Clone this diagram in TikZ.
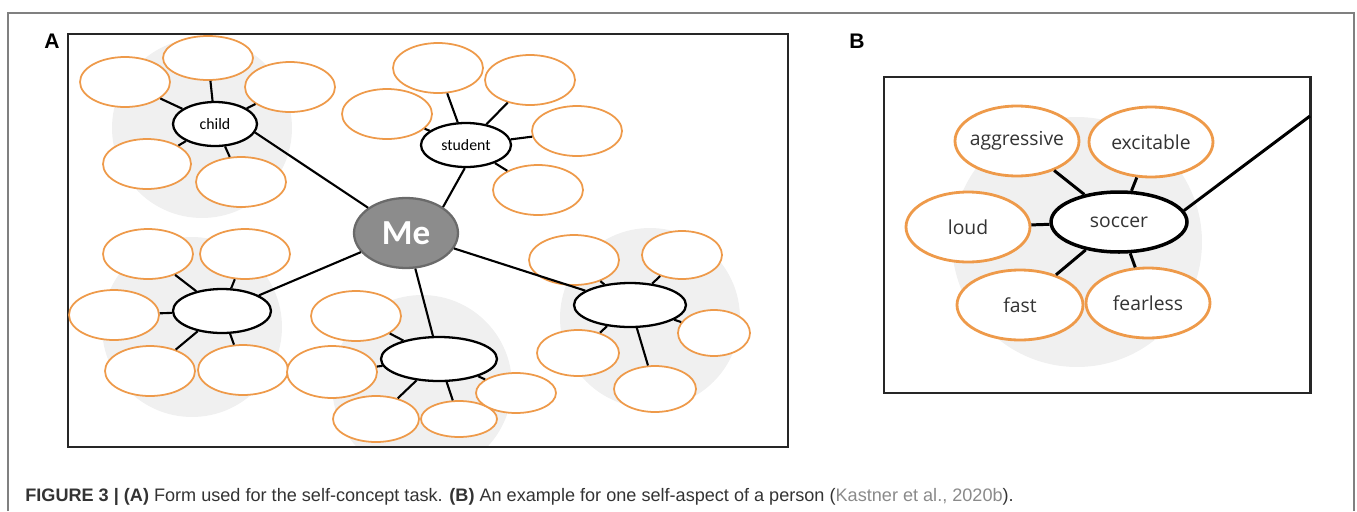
\documentclass[tikz,border=0pt]{standalone}
\usepackage{fontspec}
\setmainfont{Liberation Sans}
\newfontfamily\calib{Carlito}
\newfontfamily\hand{Open Sans}
\usepackage{tikz}
\usetikzlibrary{shapes.geometric,positioning}
\definecolor{bubline}{HTML}{EE9A4A}
\definecolor{discgray}{HTML}{F0F0F0}
\definecolor{mefill}{HTML}{8C8C8C}
\definecolor{meline}{HTML}{6A6A6A}
\definecolor{framegray}{HTML}{808080}
\definecolor{captext}{HTML}{333333}
\definecolor{citegray}{HTML}{8A8A8A}

\begin{document}
\begin{tikzpicture}[
  x=0.02cm, y=-0.02cm,
  bub/.style={ellipse, draw=bubline, line width=1pt, fill=white, inner sep=0pt, minimum width=1.8cm, minimum height=1cm},
  hub/.style={ellipse, draw=black, line width=1.3pt, fill=white, inner sep=0pt, minimum width=1.8cm, minimum height=0.88cm, font=\calib\fontsize{9}{10}\selectfont},
  bubB/.style={bub, line width=1.6pt, minimum width=2.48cm, minimum height=1.4cm},
  hubB/.style={hub, line width=2pt, minimum width=2.72cm, minimum height=1.2cm},
  disc/.style={circle, fill=discgray, inner sep=0pt, minimum size=3.6cm},
  spoke/.style={line width=1.2pt, black},
  spokeB/.style={line width=1.7pt, black},
  panel/.style={draw=black!85, line width=1.4pt},
  word/.style={font=\hand\fontsize{11}{12}\selectfont, text=black!80},
  tag/.style={font=\bfseries\fontsize{12}{12}\selectfont, inner sep=0pt}
]
\useasboundingbox (0,0) rectangle (1357,511);
\draw[framegray, line width=0.9pt] (8,511) -- (8,13) -- (1354,13) -- (1354,511);

% panel A
\node[tag] (labA) at (52,41) {A};
\begin{scope}
  \clip (68,34) rectangle (788,447);
  \node[disc] (dChild) at (202,128) {};
  \node[disc] (dLeft) at (192,327) {};
  \node[disc] (dBot) at (422,385) {};
  \node[disc] (dRight) at (650,318) {};
\end{scope}
\draw[panel] (68,34) rectangle (788,447);

\node[ellipse, draw=meline, line width=1.3pt, fill=mefill, inner sep=0pt, minimum width=2.08cm, minimum height=1.4cm,
      text=white, font=\calib\bfseries\fontsize{20}{20}\selectfont] (me) at (406,233) {Me};

\node[hub, minimum width=1.68cm] (child) at (215,124) {child};
\node[bub] (c1) at (125,82) {};
\node[bub, minimum height=0.88cm] (c2) at (208,58) {};
\node[bub] (c3) at (290,87) {};
\node[bub, minimum width=1.76cm] (c4) at (147,164) {};
\node[bub] (c5) at (241,182) {};

\node[hub] (stud) at (466,145) {student};
\node[bub] (s1) at (438,68) {};
\node[bub] (s2) at (530,80) {};
\node[bub] (s3) at (387,114) {};
\node[bub] (s4) at (577,131) {};
\node[bub] (s5) at (538,190) {};

\node[hub, minimum width=1.96cm] (hL) at (222,311) {};
\node[bub] (l1) at (148,254) {};
\node[bub] (l2) at (245,254) {};
\node[bub] (l3) at (114,315) {};
\node[bub] (l4) at (150,371) {};
\node[bub] (l5) at (243,370) {};

\node[hub, minimum width=2.32cm] (hB) at (439,359) {};
\node[bub] (b1) at (356,316) {};
\node[bub, minimum height=1.04cm] (b2) at (332,372) {};
\node[bub, minimum width=1.72cm, minimum height=0.92cm] (b3) at (376,419) {};
\node[bub, minimum width=1.52cm, minimum height=0.72cm] (b4) at (459,419) {};
\node[bub, minimum width=1.6cm, minimum height=0.8cm] (b5) at (516,393) {};

\node[hub, minimum width=2.24cm] (hR) at (630,305) {};
\node[bub] (r1) at (574,260) {};
\node[bub, minimum width=1.6cm, minimum height=0.96cm] (r2) at (682,255) {};
\node[bub, minimum width=1.44cm, minimum height=0.92cm] (r3) at (714,333) {};
\node[bub, minimum width=1.64cm, minimum height=0.92cm] (r4) at (578,353) {};
\node[bub, minimum width=1.64cm, minimum height=0.92cm] (r5) at (655,389) {};

\draw[spoke] (child.-12) -- (me);
\draw[spoke] (me.35) -- (stud.-93);
\draw[spoke] (me) -- (hL);
\draw[spoke] (me) -- (hB);
\draw[spoke] (me) -- (hR);
\foreach \b in {c1,c2,c3,c4,c5} \draw[spoke] (\b) -- (child);
\foreach \b in {s1,s2,s3,s4,s5} \draw[spoke] (\b) -- (stud);
\foreach \b in {l1,l2,l3,l4,l5} \draw[spoke] (\b) -- (hL);
\foreach \b in {b1,b2,b3,b4,b5} \draw[spoke] (\b) -- (hB);
\foreach \b in {r1,r2,r3,r4,r5} \draw[spoke] (\b) -- (hR);

% panel B
\node[tag] (labB) at (857,41) {B};
\draw[panel, line width=1.7pt] (884,77) rectangle (1310,393);
\node[disc, minimum size=5cm] (dSoc) at (1077,242) {};
\node[hubB, label={[word]center:soccer}] (soc) at (1119,222) {};
\node[bubB, label={[word]center:aggressive}] (agg) at (1017,141) {};
\node[bubB, label={[word]center:excitable}] (exc) at (1151,142) {};
\node[bubB, label={[word]center:loud}] (loud) at (968,227) {};
\node[bubB, minimum width=2.52cm, label={[word]center:fast}] (fast) at (1020,305) {};
\node[bubB, label={[word]center:fearless}] (fear) at (1148,303) {};
\coordinate (bout) at (1310,116);
\draw[spokeB] (soc.10) -- (bout);
\foreach \b in {agg,exc,loud,fast,fear} \draw[spokeB] (\b) -- (soc);

% caption
\node[anchor=base west, inner sep=0pt, text=captext, font=\fontsize{10.3}{12}\selectfont] (cap) at (25,501)
  {\textbf{FIGURE 3 | (A)} Form used for the self-concept task. \textbf{(B)} An example for one self-aspect of a person ({\color{citegray}Kastner et al., 2020b}).};
\end{tikzpicture}
\end{document}
